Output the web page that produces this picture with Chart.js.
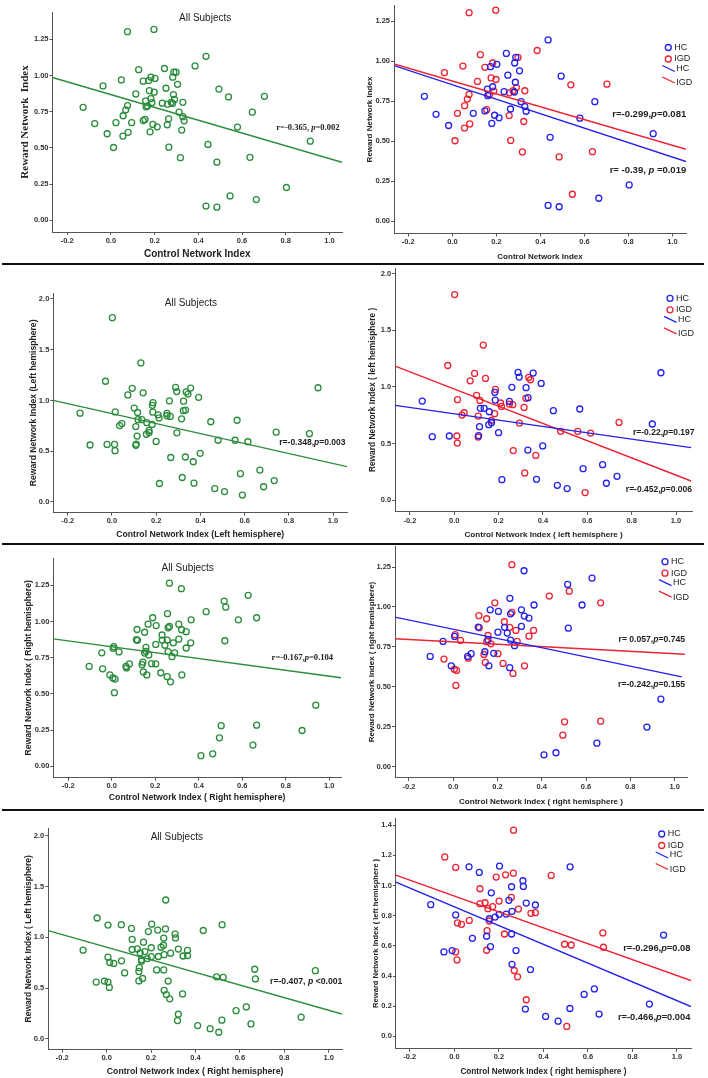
<!DOCTYPE html>
<html>
<head>
<meta charset="utf-8">
<script src="https://cdn.jsdelivr.net/npm/chart.js@4.4.0/dist/chart.umd.min.js"></script>
<style>
  body { margin: 0; background: #fff; }
  #page { position: relative; width: 708px; height: 1078px; overflow: hidden; background: #fff; }
  #page canvas { position: absolute; }
  .rule { position: absolute; left: 2px; width: 702px; height: 2px; background: #111; }
</style>
</head>
<body>
<div id="page">
  <div class="rule" style="top:263px"></div>
  <div class="rule" style="top:543px"></div>
  <div class="rule" style="top:809px"></div>
</div>
<script>
// ticks
const xTickVals = [-0.2, 0, 0.2, 0.4, 0.6, 0.8, 1.0];
const yTicksQuarter = [0, 0.25, 0.5, 0.75, 1.0, 1.25];
const yTicksHalf = [0, 0.5, 1.0, 1.5, 2.0];
const yTicksFifth = [0, 0.2, 0.4, 0.6, 0.8, 1.0, 1.2, 1.4];

// row 1: control network index vs reward network index
const hc1X = [-0.127,-0.074,-0.017,0.095,0.148,0.159,0.161,0.173,0.179,0.183,0.192,0.202,0.212,0.235,0.245,0.252,0.264,0.282,0.283,0.288,0.286,0.305,0.312,0.329,0.335,0.435,0.444,0.435,0.485,0.494,0.579,0.647,0.665,0.803,0.912];
const hc1Y = [0.780,0.668,0.598,0.674,0.689,0.825,0.784,0.965,0.611,0.840,0.662,0.980,0.646,0.809,1.048,0.912,0.701,0.807,0.988,1.023,0.868,0.939,0.747,0.716,0.687,1.132,0.524,0.099,0.091,0.906,0.644,0.747,0.144,0.227,0.547];
const igd1X = [-0.036,0.023,0.012,0.048,0.055,0.056,0.068,0.076,0.079,0.076,0.114,0.127,0.148,0.156,0.168,0.176,0.183,0.188,0.197,0.198,0.258,0.259,0.265,0.276,0.291,0.298,0.318,0.324,0.329,0.385,0.485,0.538,0.545,0.636,0.702];
const igd1Y = [0.928,0.674,0.503,0.969,0.582,0.722,0.763,0.792,0.608,1.302,0.873,1.040,0.961,0.697,0.790,0.895,0.988,0.813,1.318,0.885,0.660,0.802,0.505,0.815,0.835,1.023,0.433,0.623,0.815,1.066,0.402,0.852,0.169,0.435,0.856];

// row 2: left hemisphere
const hc2X = [-0.144,-0.099,-0.022,0.110,0.114,0.118,0.135,0.158,0.156,0.168,0.183,0.185,0.200,0.215,0.249,0.260,0.288,0.293,0.324,0.332,0.333,0.356,0.371,0.392,0.399,0.447,0.465,0.509,0.566,0.581,0.669,0.686,0.734,0.893,0.932];
const hc2Y = [0.875,0.561,0.567,0.570,0.649,0.811,0.811,0.781,0.667,0.684,0.952,0.884,0.596,0.182,0.872,0.996,1.128,1.087,0.993,0.443,0.905,1.122,0.185,1.031,0.479,0.790,0.132,0.103,0.805,0.279,0.314,0.150,0.211,0.673,1.125];
const igd2X = [-0.029,0.002,0.012,0.014,0.015,0.035,0.045,0.072,0.092,0.101,0.108,0.108,0.116,0.131,0.141,0.168,0.182,0.186,0.209,0.213,0.249,0.264,0.266,0.294,0.315,0.318,0.323,0.336,0.344,0.368,0.480,0.557,0.615,0.590,0.743];
const igd2Y = [1.189,1.815,0.567,0.505,0.887,0.752,0.772,1.054,1.119,0.925,0.743,0.558,0.881,1.369,1.075,0.705,0.764,0.978,0.858,0.828,0.849,0.843,0.438,0.681,0.819,0.241,0.899,1.084,1.063,0.396,0.608,0.608,0.593,0.068,0.687];

// row 3: right hemisphere (control) vs right hemisphere (reward)
const hc3X = [-0.104,-0.046,-0.009,0.006,0.065,0.081,0.113,0.143,0.157,0.161,0.167,0.183,0.204,0.202,0.232,0.244,0.256,0.259,0.259,0.255,0.277,0.308,0.308,0.320,0.321,0.342,0.365,0.410,0.464,0.517,0.520,0.582,0.627,0.649,0.875,0.938];
const hc3Y = [0.690,0.784,0.631,0.815,0.690,0.707,0.874,0.719,0.794,0.631,0.982,0.709,0.972,0.842,0.872,0.836,1.054,0.957,0.792,0.619,0.757,0.878,0.982,1.227,0.943,0.930,1.012,0.073,0.086,1.141,0.867,1.012,1.181,0.146,0.247,0.422];
const igd3X = [-0.042,0.005,0.015,0.012,0.009,0.033,0.068,0.116,0.118,0.139,0.145,0.151,0.151,0.157,0.170,0.188,0.202,0.225,0.231,0.255,0.265,0.265,0.270,0.283,0.289,0.322,0.342,0.363,0.434,0.495,0.503,0.524,0.666,0.666];
const igd3Y = [0.673,0.610,0.602,0.508,0.826,0.790,0.679,0.945,0.870,0.702,0.652,0.782,0.926,0.821,0.769,1.026,0.707,0.646,0.907,0.872,1.265,0.966,0.583,0.853,0.784,0.631,0.817,0.853,1.068,0.196,0.280,1.099,0.284,1.026];

// row 4: right hemisphere (control) vs left hemisphere (reward)
const hc4X = [-0.106,-0.047,-0.010,0.006,0.066,0.081,0.112,0.145,0.157,0.162,0.166,0.183,0.201,0.203,0.233,0.245,0.257,0.259,0.257,0.259,0.277,0.308,0.310,0.319,0.323,0.342,0.364,0.410,0.466,0.520,0.519,0.583,0.629,0.650,0.876,0.940];
const hc4Y = [0.873,0.560,0.569,0.805,1.124,0.650,1.087,0.664,0.780,0.595,0.952,0.791,0.809,1.129,0.811,0.902,0.992,0.829,0.679,0.478,0.569,1.032,0.994,0.181,0.884,0.443,0.871,0.132,0.101,1.124,0.185,0.278,0.315,0.148,0.214,0.672];
const igd4X = [-0.043,0.006,0.006,0.012,0.014,0.032,0.067,0.115,0.115,0.138,0.147,0.145,0.151,0.157,0.172,0.188,0.201,0.225,0.230,0.256,0.265,0.266,0.269,0.284,0.288,0.323,0.344,0.364,0.435,0.495,0.525,0.505,0.667,0.670];
const igd4Y = [1.190,1.120,0.560,0.507,0.752,0.743,0.769,0.979,0.880,0.886,0.701,0.571,0.847,0.765,0.860,1.056,0.897,0.679,1.071,0.922,1.082,1.367,0.437,0.395,0.844,0.243,0.816,0.820,1.067,0.611,0.606,0.066,0.686,0.591];

// fit lines: [x0, y0, x1, y1]
const fitAll = [[-0.267,0.986,1.057,0.401],[-0.265,1.000,1.063,0.348],[-0.269,0.880,1.054,0.611],[-0.263,1.065,1.060,0.245]];
const fitHc  = [[-0.265,0.972,1.061,0.373],[-0.266,0.837,1.068,0.464],[-0.263,0.936,1.032,0.562],[-0.263,1.023,1.063,0.198]];
const fitIgd = [[-0.265,0.982,1.061,0.450],[-0.266,1.183,1.068,0.170],[-0.263,0.801,1.046,0.703],[-0.263,1.069,1.063,0.370]];

// r / p labels
const statAll = ['r=-0.365, p=0.002','r=-0.348,p=0.003','r=-0.167,p=0.104','r=-0.407, p <0.001'];
const statIgd = ['r=-0.299,p=0.081','r=-0.452,p=0.006','r= 0.057,p=0.745','r=-0.296,p=0.08'];
const statHc  = ['r= -0.39, p =0.019','r=-0.22,p=0.197','r=-0.242,p=0.155','r=-0.466,p=0.004'];

const rows = [[hc1X,hc1Y,igd1X,igd1Y],[hc2X,hc2Y,igd2X,igd2Y],[hc3X,hc3Y,igd3X,igd3Y],[hc4X,hc4Y,igd4X,igd4Y]];

const GREEN = '#2a8c3c', BLUE = '#2222ee', RED = '#ee2233';
const SANS = '"Liberation Sans", Arial, sans-serif';
const SERIF = '"Liberation Serif", "Times New Roman", serif';

// layout per panel (pixel boxes of the plot area, axis ranges, titles)
const panels = [
  { row:0, kind:'all', box:[52,12,341,232], xr:[-0.267,1.057], yr:[-0.080,1.438], yt:yTicksQuarter, dec:2,
    yTitle:'Reward Network  Index', yFont:SERIF, ySize:11, yDist:27, xTitle:'Control Network Index', xSize:10, xDist:22,
    head:[0.431,1.395], stats:[[statAll[0],1.045,0.638,SERIF,8.5]] },
  { row:0, kind:'grp', box:[394,3,686,233], xr:[-0.265,1.061], yr:[-0.076,1.347], yt:yTicksQuarter, dec:2,
    yTitle:'Reward Network Index', yFont:SANS, ySize:8, yDist:24, xTitle:'Control Network Index', xSize:8, xDist:23.5,
    stats:[[statIgd[0],1.062,0.668,SANS,9.5],[statHc[0],1.062,0.316,SANS,9.5]], legend:[-17.7,42] },
  { row:1, kind:'all', box:[53,293,347,513], xr:[-0.265,1.063], yr:[-0.105,2.058], yt:yTicksHalf, dec:1,
    yTitle:'Reward Network Index (Left hemisphere)', yFont:SANS, ySize:8.6, yDist:20, xTitle:'Control Network Index (Left hemisphere)', xSize:8.7, xDist:22,
    head:[0.357,1.96], stats:[[statAll[1],1.056,0.58,SANS,8.5]] },
  { row:1, kind:'grp', box:[395,268,692,512], xr:[-0.266,1.072], yr:[-0.103,2.049], yt:yTicksHalf, dec:1,
    yTitle:'Reward Network Index ( left hemisphere )', yFont:SANS, ySize:8.4, yDist:23, xTitle:'Control Network Index ( left hemisphere )', xSize:8.1, xDist:23,
    stats:[[statHc[1],1.083,0.596,SANS,8.5],[statIgd[1],1.072,0.091,SANS,8.5]], legend:[-22,30.3] },
  { row:2, kind:'all', box:[53,558,341,778], xr:[-0.269,1.054], yr:[-0.079,1.439], yt:yTicksQuarter, dec:2,
    yTitle:'Reward Network Index ( Right hemisphere)', yFont:SANS, ySize:8.6, yDist:25, xTitle:'Control Network Index ( Right hemisphere)', xSize:8.7, xDist:20,
    head:[0.349,1.366], stats:[[statAll[2],1.018,0.749,SERIF,8.6]] },
  { row:2, kind:'grp', box:[395,546,687,778], xr:[-0.263,1.056], yr:[-0.072,1.382], yt:yTicksQuarter, dec:2,
    yTitle:'Reward Network Index ( right hemisphere)', yFont:SANS, ySize:8, yDist:23, xTitle:'Control Network Index ( right hemisphere )', xSize:8.1, xDist:24,
    stats:[[statIgd[2],1.047,0.792,SANS,8.6],[statHc[2],1.047,0.516,SANS,8.6]], legend:[-22,15.7] },
  { row:3, kind:'all', box:[48,828,342,1050], xr:[-0.263,1.060], yr:[-0.105,2.075], yt:yTicksHalf, dec:1,
    yTitle:'Reward Network Index ( Left hemisphere)', yFont:SANS, ySize:8.5, yDist:20, xTitle:'Control Network Index ( Right hemisphere)', xSize:8.7, xDist:22,
    head:[0.316,1.986], stats:[[statAll[3],1.062,0.565,SANS,8.7]] },
  { row:3, kind:'grp', box:[396,818,691,1049], xr:[-0.263,1.063], yr:[-0.083,1.448], yt:yTicksFifth, dec:1,
    yTitle:'Reward Network Index ( left hemisphere )', yFont:SANS, ySize:7.6, yDist:20, xTitle:'Control Network Index ( right hemisphere )', xSize:8.2, xDist:23,
    stats:[[statIgd[3],1.06,0.58,SANS,9.3],[statHc[3],1.06,0.126,SANS,9.3]], legend:[-29.3,16] }
];

function pts(xs, ys){ return xs.map((x,i)=>({x, y:ys[i]})); }
function seg(f){ return [{x:f[0], y:f[1]}, {x:f[2], y:f[3]}]; }

function drawStat(ctx, s, px, py){
  const [text, , , fam, size] = s;
  const i = text.indexOf('p');
  const a = text.slice(0,i), b = text.slice(i+1);
  const up = `bold ${size}px ${fam}`, it = `italic bold ${size}px ${fam}`;
  ctx.font = up; const wa = ctx.measureText(a).width, wb = ctx.measureText(b).width;
  ctx.font = it; const wp = ctx.measureText('p').width;
  const left = px - (wa + wp + wb);
  ctx.textAlign = 'left'; ctx.textBaseline = 'middle'; ctx.fillStyle = '#222';
  ctx.font = up; ctx.fillText(a, left, py);
  ctx.font = it; ctx.fillText('p', left + wa, py);
  ctx.font = up; ctx.fillText(b, left + wa + wp, py);
}

function drawLegend(ctx, cx, cy){
  ctx.lineWidth = 1.3;
  ctx.font = `9px ${SANS}`; ctx.textAlign = 'left'; ctx.textBaseline = 'middle';
  [[BLUE,'HC',0],[RED,'IGD',11.5]].forEach(([c,t,dy])=>{
    ctx.strokeStyle = c; ctx.beginPath(); ctx.arc(cx, cy+dy, 3, 0, Math.PI*2); ctx.stroke();
    ctx.fillStyle = '#222'; ctx.fillText(t, cx+6, cy+dy);
  });
  [[BLUE,'HC',18,21],[RED,'IGD',29.5,35.5]].forEach(([c,t,dy,ty])=>{
    ctx.strokeStyle = c; ctx.beginPath(); ctx.moveTo(cx-6, cy+dy); ctx.lineTo(cx+6.5, cy+dy+6); ctx.stroke();
    ctx.fillStyle = '#222'; ctx.fillText(t, cx+8, cy+ty);
  });
}

function makeDecor(p){
  return {
    id: 'decor',
    afterDatasetsDraw(chart){
      const {ctx, chartArea: area, scales: {x, y}} = chart;
      ctx.save();
      if(p.head){
        ctx.font = `10px ${SANS}`; ctx.fillStyle = '#222';
        ctx.textAlign = 'center'; ctx.textBaseline = 'middle';
        ctx.fillText('All Subjects', x.getPixelForValue(p.head[0]), y.getPixelForValue(p.head[1]));
      }
      p.stats.forEach(s => drawStat(ctx, s, x.getPixelForValue(s[1]), y.getPixelForValue(s[2])));
      if(p.legend) drawLegend(ctx, area.right + p.legend[0], area.top + p.legend[1]);
      ctx.restore();
    }
  };
}

function scatterSet(data, color){
  return { data, showLine:false, pointStyle:'circle', pointRadius:3, pointBorderWidth:1.3,
           pointBackgroundColor:'rgba(0,0,0,0)', pointBorderColor:color, borderColor:color, order:2 };
}
function lineSet(f, color){
  return { data: seg(f), showLine:true, pointRadius:0, borderColor:color, borderWidth:1.4, order:1 };
}

const page = document.getElementById('page');

panels.forEach(p => {
  const [L, T, R, B] = p.box;
  const [hx, hy, gx, gy] = rows[p.row];
  const padTop = Math.min(T, 6), padRight = 14;
  const wy = p.yDist + p.ySize/2, hxh = p.xDist + p.xSize/2;

  const canvas = document.createElement('canvas');
  const cw = Math.round(wy + (R - L) + padRight), ch = Math.round(padTop + (B - T) + hxh);
  canvas.width = cw; canvas.height = ch;
  canvas.style.left = (L - wy) + 'px';
  canvas.style.top = (T - padTop) + 'px';
  canvas.style.width = cw + 'px'; canvas.style.height = ch + 'px';
  page.appendChild(canvas);

  let datasets;
  if(p.kind === 'all'){
    datasets = [
      scatterSet(pts(hx, hy).concat(pts(gx, gy)), GREEN),
      lineSet(fitAll[p.row], GREEN)
    ];
  } else {
    datasets = [
      scatterSet(pts(hx, hy), BLUE),
      scatterSet(pts(gx, gy), RED),
      lineSet(fitHc[p.row], BLUE),
      lineSet(fitIgd[p.row], RED)
    ];
  }

  const tickFont = { family: SANS, size: 7.5, weight: 'bold' };
  const gridOpt = { display:true, drawOnChartArea:false, drawTicks:true, tickLength:3, color:'#555', lineWidth:1 };

  new Chart(canvas.getContext('2d'), {
    type: 'scatter',
    data: { datasets },
    options: {
      responsive: false,
      animation: false,
      devicePixelRatio: 1,
      layout: { padding: { left:0, top:padTop, right:padRight, bottom:0 } },
      plugins: { legend:{ display:false }, tooltip:{ enabled:false } },
      scales: {
        x: {
          type: 'linear', min: p.xr[0], max: p.xr[1],
          afterBuildTicks: s => { s.ticks = xTickVals.map(v => ({ value: v })); },
          afterFit: s => { s.height = hxh; },
          grid: gridOpt,
          border: { display:true, color:'#555', width:1 },
          ticks: { font: tickFont, color:'#333', padding:1, autoSkip:false, maxRotation:0,
                   callback: v => Number(v).toFixed(1) },
          title: { display:true, text:p.xTitle, color:'#222', padding:0,
                   font: { family:SANS, size:p.xSize, weight:'bold', lineHeight:1 } }
        },
        y: {
          type: 'linear', min: p.yr[0], max: p.yr[1],
          afterBuildTicks: s => { s.ticks = p.yt.map(v => ({ value: v })); },
          afterFit: s => { s.width = wy; },
          grid: gridOpt,
          border: { display:true, color:'#555', width:1 },
          ticks: { font: tickFont, color:'#333', padding:1, autoSkip:false,
                   callback: v => Number(v).toFixed(p.dec) },
          title: { display:true, text:p.yTitle, color:'#222', padding:0,
                   font: { family:p.yFont, size:p.ySize, weight:'bold', lineHeight:1 } }
        }
      }
    },
    plugins: [makeDecor(p)]
  });
});
</script>
</body>
</html>
